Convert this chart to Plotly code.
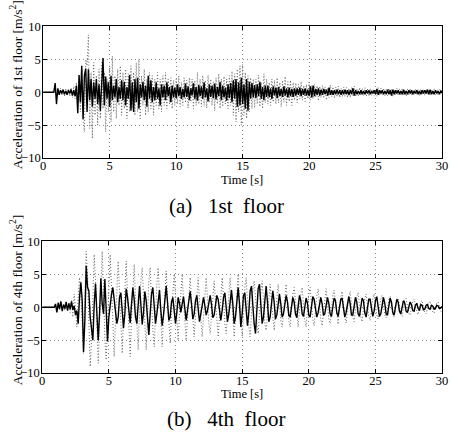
import numpy as np
import plotly.graph_objects as go

# time axis, sampled every 0.1 s
time_s = [round(i * 0.1, 1) for i in range(301)]

# 1st floor - controlled (solid)
acc1_ctrl = [
    0, 0, 0, 0, 0, 0, 0, 0, 0, 1.4,
    -1.8, 0.6, -0.4, 0.3, -0.2, 0.4, -0.3, 0.2, -0.4, 0.3,
    -0.2, 0.4, -0.5, 0.3, -0.6, 1.0, -3.2, 2.6, -1.5, 4.0,
    -4.1, 2.5, 3.6, -3.0, 3.5, -1.2, 2.0, -2.2, 1.5, -1.0,
    2.0, -1.8, 1.2, -2.8, 1.0, 5.2, -2.0, 2.4, -1.0, 1.5,
    -2.2, 2.5, -1.2, 1.0, -0.8, 2.0, -1.5, 0.8, -1.0, 1.8,
    -1.2, 1.6, -2.0, 0.8, -1.0, 2.6, -2.8, 1.5, -3.0, 2.0,
    -1.5, 2.2, -2.5, 1.2, -0.8, 1.6, -1.2, 1.0, -2.2, 2.5,
    -1.0, 1.8, -1.5, 0.8, -1.2, 1.5, -1.0, 0.6, -2.0, 1.2,
    -0.8, 1.0, -1.2, 1.5, -0.6, 0.8, -1.5, 1.0, -0.8, 0.7,
    -0.9, 1.2, -0.6, 0.8, -1.0, 0.5, -0.8, 1.3, -0.7, 0.9,
    -1.2, 0.6, -0.5, 1.4, -1.0, 0.8, -1.3, 1.1, -0.6, 0.9,
    -1.0, 1.5, -0.8, 0.6, -1.4, 1.2, -0.7, 1.0, -0.9, 1.3,
    -1.1, 0.8, -0.6, 1.6, -1.2, 1.0, -0.8, 0.7, -1.3, 1.2,
    -0.9, 1.4, -1.5, 1.8, -1.0, 2.0, -2.2, 1.5, -2.0, 2.2,
    -1.8, 1.2, -2.5, 2.0, -2.8, 1.6, -1.0, 1.4, -0.8, 1.1,
    -0.9, 1.2, -0.6, 1.6, -1.0, 0.8, -1.2, 1.0, -0.7, 1.0,
    -0.8, 0.6, -1.0, 0.9, -0.5, 0.7, -0.9, 0.8, -0.6, 0.5,
    -0.7, 0.9, -0.5, 0.6, -0.8, 0.7, -0.6, 0.5, -0.7, 0.6,
    -0.5, 0.6, -0.4, 0.7, -0.6, 0.5, -0.4, 0.6, -0.5, 0.4,
    -0.6, 0.9, -0.8, 1.0, -0.6, 0.5, -0.4, 0.6, -0.5, 0.4,
    -0.4, 0.5, -0.3, 0.4, -0.5, 0.7, -0.4, 0.3, -0.4, 0.3,
    -0.3, 0.4, -0.3, 0.3, -0.4, 0.3, -0.3, 0.4, -0.3, 0.3,
    -0.4, 0.3, -0.3, 0.6, -0.5, 0.3, -0.3, 0.2, -0.3, 0.3,
    -0.3, 0.2, -0.3, 0.3, -0.2, 0.3, -0.3, 0.2, -0.2, 0.3,
    -0.3, 0.5, -0.4, 0.3, -0.2, 0.3, -0.3, 0.2, -0.3, 0.4,
    -0.3, 0.3, -0.5, 0.4, -0.3, 0.3, -0.2, 0.3, -0.3, 0.2,
    -0.3, 0.4, -0.3, 0.2, -0.3, 0.3, -0.2, 0.3, -0.3, 0.2,
    -0.2, 0.3, -0.3, 0.2, -0.3, 0.3, -0.2, 0.3, -0.2, 0.4,
    -0.3, 0.4, -0.3, 0.2, -0.3, 0.3, -0.2, 0.2, -0.3, 0.2,
    0.1,
]

# 1st floor - uncontrolled (dotted)
acc1_unc = [
    0, 0, 0, 0, 0, 0, 0, 0, 0, 0.6,
    -0.8, 0.5, -0.4, 0.6, -0.5, 0.4, -0.6, 0.5, -0.4, 0.5,
    -0.6, 0.7, -0.8, 0.9, -1.0, 1.5, -2.0, 2.5, -3.0, 3.5,
    -4.0, -6.0, 5.0, 4.0, 8.7, -5.5, 3.0, -7.0, 4.5, -3.5,
    2.5, -5.0, 3.5, -4.0, 4.5, -2.5, 3.0, -6.0, 2.0, -3.0,
    4.0, -4.5, 5.5, -3.0, 2.5, -4.0, 3.5, -2.0, 4.0, -3.5,
    3.0, -2.5, 3.5, -4.0, 2.8, -3.0, 4.0, -2.5, 3.0, -3.5,
    4.5, -3.0, 5.0, -4.0, 2.5, -2.0, 3.5, -3.5, 2.0, -3.0,
    3.0, -2.5, 2.5, -3.5, 2.0, -2.0, 3.0, -2.5, 2.0, -3.0,
    2.5, -2.0, 3.0, -2.5, 2.0, -1.8, 2.2, -2.5, 1.8, -2.0,
    2.0, -1.8, 2.5, -2.2, 1.5, -2.0, 2.2, -1.6, 1.8, -2.4,
    2.2, -1.5, 2.0, -2.5, 1.8, -2.0, 3.0, -1.8, 2.0, -2.2,
    2.5, -2.0, 1.8, -2.4, 2.6, -1.5, 2.0, -2.0, 1.6, -2.8,
    2.2, -1.8, 2.8, -2.5, 2.0, -2.2, 2.4, -1.8, 2.0, -2.5,
    2.5, -2.0, 3.2, -3.5, 2.8, -4.5, 3.5, -3.0, 4.0, -5.0,
    4.2, -3.5, 3.0, -4.0, 2.5, -3.0, 2.2, -2.5, 2.0, -2.4,
    2.0, -1.8, 2.6, -2.2, 1.5, -2.5, 2.8, -1.6, 2.0, -1.8,
    1.5, -2.0, 2.0, -1.5, 1.8, -1.8, 2.2, -1.6, 1.5, -2.2,
    1.8, -1.5, 2.4, -2.0, 1.6, -1.4, 1.8, -2.0, 1.5, -1.2,
    1.4, -1.6, 1.2, -1.0, 1.6, -1.2, 1.0, -1.4, 1.2, -1.0,
    1.5, -1.2, 1.0, -1.0, 1.2, -0.8, 1.0, -1.3, 0.9, -0.8,
    1.0, -0.9, 0.8, -1.2, 0.7, -0.8, 1.1, -0.7, 0.8, -0.9,
    0.8, -0.7, 0.9, -0.8, 0.6, -0.7, 0.8, -0.6, 0.7, -0.8,
    0.6, -0.8, 0.7, -0.6, 0.9, -0.7, 0.5, -0.6, 0.7, -0.5,
    0.6, -0.5, 0.7, -0.6, 0.5, -0.6, 0.6, -0.5, 0.4, -0.6,
    0.5, -0.6, 0.7, -0.5, 0.6, -0.4, 0.6, -0.5, 0.4, -0.5,
    0.6, -0.4, 0.5, -0.6, 0.4, -0.5, 0.6, -0.4, 0.5, -0.4,
    0.5, -0.5, 0.4, -0.6, 0.5, -0.4, 0.5, -0.5, 0.4, -0.4,
    0.5, -0.4, 0.4, -0.5, 0.5, -0.4, 0.4, -0.5, 0.4, -0.3,
    0.4, -0.5, 0.4, -0.3, 0.5, -0.4, 0.3, -0.4, 0.4, -0.3,
    0.2,
]

# 4th floor - controlled (solid)
acc4_ctrl = [
    0, 0, 0, 0, 0, 0, 0, 0, 0, 0,
    0.5, -0.8, 0.7, -0.3, 0.9, -0.6, 0.4, -0.2, 0.8, -0.5,
    0.6, -0.3, 0.9, -0.4, 0.2, -1.2, -0.5, -2.5, 1.5, 3.8,
    1.0, -6.8, -2.0, 6.3, 3.0, 2.5, -1.5, -3.5, -5.0, 0.5,
    3.6, -0.8, -5.0, -1.0, 4.4, 0.5, -1.0, 4.3, -0.5, -5.2,
    -1.5, 0.5, 2.0, 3.0, 1.0, -1.0, -2.5, -1.5, 1.5, 2.2,
    -0.5, -3.2, -1.0, 2.8, 1.5, -1.2, -2.4, 0.5, 3.0, 1.2,
    -1.5, -2.5, 0.8, 3.2, 0.5, -2.6, -0.8, 2.4, 1.0, -1.8,
    -4.2, -1.0, 2.0, 3.0, 0.2, -2.5, -1.0, 1.5, 2.6, -0.5,
    -2.8, -1.2, 1.8, 3.2, 0.8, -2.0, -1.5, 0.8, 1.5, -0.5,
    -2.5, -0.8, 1.5, 0.6, -0.8, 0.5, 1.6, -0.2, -2.0, -0.5,
    1.2, 2.4, 0.5, -1.8, -1.0, 1.0, 1.8, 0.2, -2.2, -1.0,
    0.5, 1.5, 0.3, -1.2, -0.5, 1.0, 1.8, 0.4, -1.6, -1.2,
    0.5, 1.8, 1.2, -0.8, -2.0, -0.5, 1.5, 2.2, 0.2, -2.2,
    -1.0, 1.5, 2.6, 0.5, -2.5, -1.5, 1.2, 3.0, 0.5, -3.0,
    -1.0, 1.8, 2.2, -0.5, -2.8, -0.8, 2.5, 3.2, 0.2, -2.5,
    -4.0, -0.5, 2.8, 3.5, 0.5, -2.5, -1.5, 1.2, 3.2, 0.8,
    -2.2, -1.5, 1.0, 2.5, 0.8, -1.8, -1.2, 0.8, 2.0, 0.5,
    -1.5, -1.0, 0.6, 1.8, 0.8, -1.2, -1.5, 0.5, 1.5, 0.8,
    -1.0, -1.6, 0.4, 1.8, 1.0, -1.0, -1.4, 0.2, 1.4, 0.6,
    -1.2, -1.5, 0.5, 1.6, 1.2, -0.5, -1.5, -0.8, 0.8, 1.5,
    0.5, -1.2, -1.0, 0.6, 1.5, 0.6, -1.0, -1.4, 0.4, 1.4,
    1.0, -0.8, -1.4, -0.2, 1.2, 1.4, -0.2, -1.5, -0.8, 0.8,
    1.6, 0.6, -1.2, -1.2, 0.5, 1.5, 0.8, -1.0, -1.4, 0.2,
    1.4, 1.0, -0.8, -1.5, -0.2, 1.2, 1.2, -0.4, -1.4, -0.6,
    1.0, 1.6, 0.2, -1.4, -1.0, 0.6, 1.5, 0.6, -1.0, -1.2,
    0.4, 1.4, 0.8, -0.8, -1.2, 0.2, 1.2, 0.8, -0.6, -1.0,
    0.2, 1.0, 0.6, -0.6, -0.8, 0.3, 0.8, 0.4, -0.5, -0.6,
    0.3, 0.6, -0.2, -0.5, 0.4, 0.3, -0.4, -0.3, 0.3, 0.4,
    -0.2, -0.3, 0.3, 0.2, -0.3, -0.2, 0.3, 0.2, -0.2, -0.1,
    0.1,
]

# 4th floor - uncontrolled (dotted)
acc4_unc = [
    0, 0, 0, 0, 0, 0, 0, 0, 0, 0,
    0.3, -0.5, 0.4, -0.3, 0.5, -0.4, 0.3, -0.5, 0.6, -0.4,
    0.5, -0.8, 1.0, -1.5, 2.0, -1.0, -3.0, 1.5, 4.5, 2.0,
    -4.0, -7.0, 2.0, 8.5, 5.0, -4.0, -9.0, -5.0, 3.0, 8.0,
    4.0, -4.5, -8.5, -3.0, 4.0, 8.5, 3.0, -5.0, -8.0, -2.0,
    4.5, 8.0, 3.0, -4.0, -7.5, -2.0, 4.0, 7.0, 2.5, -3.5,
    -7.0, -2.0, 3.5, 7.0, 2.0, -4.0, -7.5, -1.5, 4.0, 6.5,
    1.5, -4.0, -6.5, -1.0, 4.0, 6.0, 1.0, -4.0, -6.5, -1.5,
    4.0, 6.0, 1.0, -3.5, -6.0, -1.0, 3.5, 6.0, 1.5, -3.5,
    -6.0, -1.5, 3.0, 5.5, 1.0, -3.0, -5.5, -1.0, 3.0, 5.0,
    1.5, -3.0, -5.0, -1.0, 3.0, 5.0, 1.0, -3.0, -5.0, -1.5,
    2.5, 4.5, 1.5, -2.5, -4.5, -1.5, 2.5, 4.5, 1.0, -2.5,
    -4.5, -1.5, 2.5, 4.5, 1.5, -2.5, -4.0, -1.0, 2.5, 4.0,
    1.0, -2.5, -4.5, -1.5, 2.5, 4.5, 1.5, -2.5, -4.0, -1.0,
    2.5, 4.5, 1.5, -2.5, -4.5, -1.5, 2.5, 5.0, 1.5, -2.5,
    -4.5, -1.5, 3.0, 4.5, 1.0, -3.0, -4.5, -1.0, 2.5, 4.0,
    1.5, -2.5, -4.0, -1.0, 2.5, 4.0, 1.0, -2.5, -3.5, -1.0,
    2.0, 3.5, 1.0, -2.0, -3.5, -1.0, 2.0, 3.5, 1.0, -2.0,
    -3.0, -1.0, 2.0, 3.5, 1.0, -2.0, -3.0, -0.5, 2.0, 3.0,
    1.0, -2.0, -3.0, -0.5, 2.0, 3.0, 0.5, -2.0, -3.0, -0.5,
    2.0, 3.0, 0.5, -1.8, -2.8, -0.5, 1.8, 2.8, 0.5, -1.8,
    -2.8, -0.5, 1.8, 2.8, 0.5, -1.8, -2.5, -0.3, 1.8, 2.6,
    0.5, -1.6, -2.6, -0.3, 1.6, 2.4, 0.4, -1.6, -2.4, -0.3,
    1.6, 2.4, 0.3, -1.5, -2.2, -0.3, 1.5, 2.2, 0.3, -1.4,
    -2.2, -0.3, 1.4, 2.0, 0.2, -1.4, -2.0, -0.2, 1.3, 2.0,
    0.2, -1.2, -1.8, -0.2, 1.2, 1.8, 0.2, -1.2, -1.6, -0.2,
    1.1, 1.6, 0.2, -1.0, -1.5, -0.2, 1.0, 1.4, 0.1, -1.0,
    -1.4, -0.1, 1.0, 1.3, 0.1, -0.9, -1.2, -0.1, 0.9, 1.2,
    0.1, -0.8, -1.1, -0.1, 0.8, 1.0, 0.1, -0.8, -1.0, 0.0,
    0.7, 0.9, 0.1, -0.7, -0.9, 0.0, 0.6, 0.8, 0.0, -0.6,
    -0.7,
]

x_ticks = [0, 5, 10, 15, 20, 25, 30]
y_ticks = [-10, -5, 0, 5, 10]

W, H = 453, 444
serif = "Liberation Serif, Times New Roman, serif"

fig = go.Figure()

# dotted first, solid on top
dot_line = dict(color="#666666", width=1, dash="1px,2px")
solid_line = dict(color="black", width=1.4)
fig.add_trace(go.Scatter(x=time_s, y=acc1_unc, mode="lines", line=dot_line,
                         xaxis="x", yaxis="y"))
fig.add_trace(go.Scatter(x=time_s, y=acc1_ctrl, mode="lines", line=solid_line,
                         xaxis="x", yaxis="y"))
fig.add_trace(go.Scatter(x=time_s, y=acc4_unc, mode="lines", line=dot_line,
                         xaxis="x2", yaxis="y2"))
fig.add_trace(go.Scatter(x=time_s, y=acc4_ctrl, mode="lines", line=solid_line,
                         xaxis="x2", yaxis="y2"))

axis_style = dict(
    showline=True, linecolor="black", linewidth=1, mirror="ticks",
    ticks="inside", ticklen=4, tickcolor="black",
    showgrid=True, gridcolor="#888888", griddash="1px,3px", gridwidth=1,
    zeroline=False, ticklabeloverflow="allow",
    tickfont=dict(family=serif, size=12.5, color="black"),
)
x_style = dict(axis_style, ticklabelstandoff=-4)
y_style = dict(axis_style, ticklabelstandoff=-1)

fig.update_layout(
    width=W, height=H,
    margin=dict(l=0, r=0, t=0, b=0),
    paper_bgcolor="white", plot_bgcolor="white",
    showlegend=False,
    xaxis=dict(domain=[41 / W, 448 / W], range=[0, 30], tickvals=x_ticks,
               anchor="y", **x_style),
    yaxis=dict(domain=[1 - 156 / H, 1 - 20 / H], range=[-10, 10], tickvals=y_ticks,
               anchor="x", **y_style),
    xaxis2=dict(domain=[40 / W, 448 / W], range=[0, 30], tickvals=x_ticks,
                anchor="y2", **x_style),
    yaxis2=dict(domain=[1 - 378 / H, 1 - 242 / H], range=[-10, 10], tickvals=y_ticks,
                anchor="x2", **y_style),
)

sp = "&nbsp;"
notes = [
    (14, 80, "Acceleration of 1st floor [m/s<sup>2</sup>]", 13.5, -90),
    (244, 179, "Time [s]", 12.5, 0),
    (14, 303, "Acceleration of 4th floor [m/s<sup>2</sup>]", 13.5, -90),
    (244, 400, "Time [s]", 12.5, 0),
    (228, 205, "(a)" + sp * 3 + "1st" + sp * 2 + "floor", 21, 0),
    (228, 425, "(b)" + sp * 3 + "4th" + sp * 2 + "floor", 21, 0),
]
for px_x, px_y, txt, size, ang in notes:
    fig.add_annotation(x=px_x / W, y=1 - px_y / H, xref="paper", yref="paper",
                       text=txt, showarrow=False, textangle=ang,
                       xanchor="center", yanchor="middle",
                       font=dict(family=serif, size=size, color="black"))

# page body has a default 8px margin; drop it so the figure fills the window
fig.write_html("out.html", config={"displayModeBar": False},
               post_script="document.body.style.margin='0';document.body.style.overflow='hidden';")
